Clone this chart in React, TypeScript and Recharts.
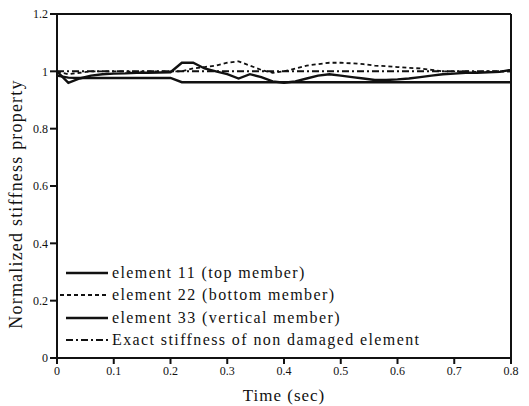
import React from 'react';
import { LineChart, Line, XAxis, YAxis, ReferenceLine } from 'recharts';

// ── Data ─────────────────────────────────────────────────────────────────────
const TIME = [
  0, 0.02, 0.04, 0.06, 0.08, 0.1, 0.12, 0.14, 0.16, 0.18, 0.2,
  0.22, 0.24, 0.26, 0.28, 0.3, 0.32, 0.34, 0.36, 0.38, 0.4,
  0.42, 0.44, 0.46, 0.48, 0.5, 0.52, 0.54, 0.56, 0.58, 0.6,
  0.62, 0.64, 0.66, 0.68, 0.7, 0.72, 0.74, 0.76, 0.78, 0.8,
];

// element 11 (top member)
const EL11 = [
  0.985, 0.978, 0.977, 0.977, 0.977, 0.977, 0.977, 0.977, 0.977, 0.977, 0.977,
  0.962, 0.962, 0.962, 0.962, 0.962, 0.962, 0.962, 0.962, 0.962, 0.962,
  0.962, 0.962, 0.962, 0.962, 0.962, 0.962, 0.962, 0.962, 0.962, 0.962,
  0.962, 0.962, 0.962, 0.962, 0.962, 0.962, 0.962, 0.962, 0.962, 0.962,
];

// element 22 (bottom member)
const EL22 = [
  1.0, 0.99, 0.995, 1.0, 1.0, 1.0, 1.0, 0.998, 1.0, 1.0, 1.0,
  1.0, 1.01, 1.015, 1.02, 1.03, 1.035, 1.02, 1.005, 0.995, 1.0,
  1.01, 1.02, 1.025, 1.03, 1.03, 1.028, 1.025, 1.02, 1.018, 1.015,
  1.012, 1.01, 1.005, 1.0, 1.0, 1.0, 0.998, 1.0, 1.0, 1.0,
];

// element 33 (vertical member)
const EL33 = [
  1.0, 0.96, 0.975, 0.985, 0.99, 0.992, 0.993, 0.995, 0.995, 0.996, 0.997,
  1.03, 1.03, 1.01, 1.0, 0.99, 0.975, 0.99, 0.98, 0.965, 0.96,
  0.965, 0.975, 0.985, 0.99, 0.985, 0.98, 0.975, 0.97, 0.97, 0.972,
  0.975, 0.98, 0.985, 0.99, 0.992, 0.995, 0.995, 0.997, 0.998, 1.005,
];

// exact stiffness of non damaged element
const EXACT = [
  1, 1, 1, 1, 1, 1, 1, 1, 1, 1, 1,
  1, 1, 1, 1, 1, 1, 1, 1, 1, 1,
  1, 1, 1, 1, 1, 1, 1, 1, 1, 1,
  1, 1, 1, 1, 1, 1, 1, 1, 1, 1,
];

const X_TICKS = [0, 0.1, 0.2, 0.3, 0.4, 0.5, 0.6, 0.7, 0.8];
const Y_TICKS = [0, 0.2, 0.4, 0.6, 0.8, 1, 1.2];

const SERIES = [
  { key: 'el11', name: 'element 11 (top member)', dash: undefined, width: 2.4 },
  { key: 'el22', name: 'element 22 (bottom member)', dash: '4 3', width: 1.8 },
  { key: 'el33', name: 'element 33 (vertical member)', dash: undefined, width: 2.4 },
  { key: 'exact', name: 'Exact stiffness of non damaged element', dash: '7 3 2 3', width: 2 },
];

const data = TIME.map((t, i) => ({
  t,
  el11: EL11[i],
  el22: EL22[i],
  el33: EL33[i],
  exact: EXACT[i],
}));

// ── Style ────────────────────────────────────────────────────────────────────
const FONT = '"Liberation Serif", "Times New Roman", "DejaVu Serif", serif';
const INK = '#111';

// legend drawn as an overlay so it doesn't steal plot height
function LegendBox() {
  return (
    <div
      style={{
        position: 'absolute',
        left: 60,
        top: 262,
        fontFamily: FONT,
        fontSize: 16,
        letterSpacing: 1.4,
        color: INK,
      }}
    >
      {SERIES.map((s, i) => (
        <div key={s.key} style={{ display: 'flex', alignItems: 'center', height: 22.3 }}>
          <svg width={50} height={10} style={{ marginRight: 2 }}>
            <line
              x1={i === 1 ? 0 : 6}
              y1={5}
              x2={48}
              y2={5}
              stroke={INK}
              strokeWidth={s.width}
              strokeDasharray={s.dash}
            />
          </svg>
          <span style={{ whiteSpace: 'nowrap' }}>{s.name}</span>
        </div>
      ))}
    </div>
  );
}

export default function App() {
  return (
    <div style={{ position: 'absolute', left: 0, top: 0, width: 529, height: 406, background: '#fff' }}>
      <LineChart
        width={529}
        height={406}
        data={data}
        margin={{ top: 14, right: 18, bottom: 18, left: 13 }}
      >
        <XAxis
          dataKey="t"
          type="number"
          domain={[0, 0.8]}
          ticks={X_TICKS}
          height={30}
          stroke={INK}
          strokeWidth={2}
          tickSize={6}
          tick={{ fill: INK, fontSize: 12, fontFamily: FONT }}
          label={{
            value: 'Time (sec)',
            position: 'bottom',
            offset: 1,
            fill: INK,
            fontSize: 17,
            fontFamily: FONT,
            letterSpacing: 1,
          }}
        />
        <YAxis
          type="number"
          domain={[0, 1.2]}
          ticks={Y_TICKS}
          width={44}
          stroke={INK}
          strokeWidth={2}
          tickSize={7}
          tick={{ fill: INK, fontSize: 12, fontFamily: FONT }}
          label={{
            content: () => (
              <text
                x={16}
                y={204}
                transform="rotate(-90 16 204)"
                textAnchor="middle"
                dominantBaseline="central"
                fill={INK}
                fontSize={18}
                fontFamily={FONT}
                letterSpacing={1.2}
              >
                Normalized stiffness property
              </text>
            ),
          }}
        />
        <ReferenceLine y={1.2} stroke={INK} strokeWidth={2} />
        <ReferenceLine x={0.8} stroke={INK} strokeWidth={2} />
        {SERIES.map(s => (
          <Line
            key={s.key}
            dataKey={s.key}
            name={s.name}
            type="linear"
            stroke={INK}
            strokeWidth={s.width}
            strokeDasharray={s.dash}
            dot={false}
            activeDot={false}
            isAnimationActive={false}
          />
        ))}
      </LineChart>
      <LegendBox />
    </div>
  );
}
